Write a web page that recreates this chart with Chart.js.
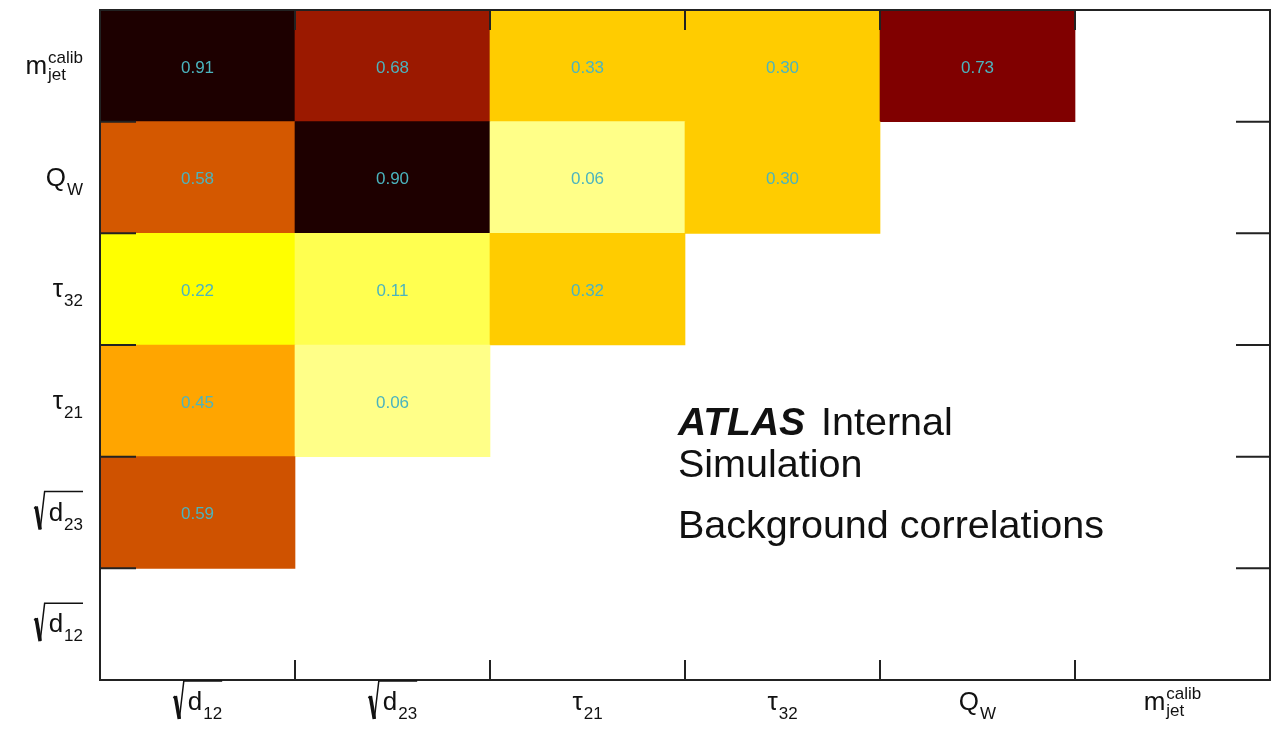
<!DOCTYPE html>
<html>
<head>
<meta charset="utf-8">
<script src="https://cdn.jsdelivr.net/npm/chart.js@4/dist/chart.umd.min.js"></script>
<style>
  html, body { margin: 0; padding: 0; background: #ffffff; }
  #wrap { width: 1280px; height: 729px; position: relative; }
</style>
</head>
<body>
<div id="wrap"><canvas id="c"></canvas></div>
<script>
// ---- data ----
// column variables (left to right) and row variables (bottom to top)
const colLabels = ['√d_{12}', '√d_{23}', 'τ_{21}', 'τ_{32}', 'Q_{W}', 'm_{jet}^{calib}'];
const rowLabels = ['√d_{12}', '√d_{23}', 'τ_{21}', 'τ_{32}', 'Q_{W}', 'm_{jet}^{calib}'];
// correlation values per row, one entry per column (null = empty cell)
const rowD12  = [null, null, null, null, null, null];
const rowD23  = [0.59, null, null, null, null, null];
const rowTau21 = [0.45, 0.06, null, null, null, null];
const rowTau32 = [0.22, 0.11, 0.32, null, null, null];
const rowQw   = [0.58, 0.90, 0.06, 0.30, null, null];
const rowMjet = [0.91, 0.68, 0.33, 0.30, 0.73, null];
const rows = [rowD12, rowD23, rowTau21, rowTau32, rowQw, rowMjet];
const textLines = ['ATLAS', 'Internal', 'Simulation', 'Background correlations'];

// ---- palette ----
const stops = [
  [0.00, [255, 255, 200]], [0.06, [255, 255, 136]], [0.11, [255, 255, 80]],
  [0.22, [255, 255, 0]], [0.30, [255, 204, 0]], [0.33, [255, 204, 0]],
  [0.45, [255, 165, 0]], [0.585, [210, 85, 0]], [0.68, [155, 25, 0]],
  [0.73, [128, 0, 0]], [0.90, [30, 0, 0]], [1.00, [20, 0, 0]]
];
function colorFor(v) {
  for (let i = 1; i < stops.length; i++) {
    if (v <= stops[i][0]) {
      const [a, ca] = stops[i - 1], [b, cb] = stops[i];
      const t = (v - a) / (b - a);
      const c = ca.map((x, k) => Math.round(x + (cb[k] - x) * t));
      return `rgb(${c[0]},${c[1]},${c[2]})`;
    }
  }
  return 'rgb(20,0,0)';
}

const datasets = rows.map((vals, r) => ({
  label: rowLabels[r],
  data: vals.map(v => v == null ? null : [r, r + 1]),
  values: vals,
  backgroundColor: vals.map(v => v == null ? 'rgba(0,0,0,0)' : colorFor(v)),
  borderWidth: 0,
  borderSkipped: false,
  grouped: false,
  barPercentage: 1.0,
  categoryPercentage: 1.0
}));

const FONT = '"Liberation Sans", Arial, Helvetica, sans-serif';

function parseLabel(s) {
  const m = s.match(/^(√)?([^_^]+)(?:_\{([^}]*)\})?(?:\^\{([^}]*)\})?$/);
  return { sqrt: !!m[1], base: m[2], sub: m[3] || '', sup: m[4] || '' };
}

function drawMath(ctx, s, x, baseline, align) {
  const p = parseLabel(s);
  const baseFont = `26px ${FONT}`, scriptFont = `17px ${FONT}`;
  ctx.font = baseFont;
  const wb = ctx.measureText(p.base).width;
  ctx.font = scriptFont;
  const ws = Math.max(p.sub ? ctx.measureText(p.sub).width : 0, p.sup ? ctx.measureText(p.sup).width : 0);
  const radW = p.sqrt ? 15 : 0;
  const W = radW + wb + ws + (p.sub || p.sup ? 1 : 0);
  let x0 = align === 'right' ? x - W : x - W / 2;
  ctx.fillStyle = '#111';
  ctx.strokeStyle = '#111';
  if (p.sqrt) {
    const top = baseline - 29;
    ctx.beginPath();
    ctx.lineWidth = 1.5;
    ctx.moveTo(x0 + 0.5, baseline - 12);
    ctx.lineTo(x0 + 2.5, baseline - 14);
    ctx.stroke();
    ctx.beginPath();
    ctx.lineWidth = 3.6;
    ctx.moveTo(x0 + 2.5, baseline - 14);
    ctx.lineTo(x0 + 6.5, baseline + 9);
    ctx.stroke();
    ctx.beginPath();
    ctx.lineWidth = 1.5;
    ctx.moveTo(x0 + 6.5, baseline + 9);
    ctx.lineTo(x0 + 11, top);
    ctx.lineTo(x0 + W, top);
    ctx.stroke();
    x0 += radW;
  }
  ctx.textAlign = 'left';
  ctx.textBaseline = 'alphabetic';
  ctx.font = baseFont;
  ctx.fillText(p.base, x0, baseline);
  const xs = x0 + wb + 1;
  ctx.font = scriptFont;
  if (p.sup) {
    ctx.fillText(p.sup, xs, baseline - 11);
    if (p.sub) ctx.fillText(p.sub, xs, baseline + 6);
  } else if (p.sub) {
    ctx.fillText(p.sub, xs, baseline + 9);
  }
}

const overlay = {
  id: 'overlay',
  afterDatasetsDraw(chart) {
    const ctx = chart.ctx;
    const xs = chart.scales.x, ys = chart.scales.y;
    const a = chart.chartArea;
    ctx.save();
    // cell values
    ctx.font = `17px ${FONT}`;
    ctx.textAlign = 'center';
    ctx.textBaseline = 'middle';
    ctx.fillStyle = 'rgb(75,180,190)';
    rows.forEach((vals, r) => {
      vals.forEach((v, c) => {
        if (v == null) return;
        ctx.fillText(v.toFixed(2), xs.getPixelForValue(c), ys.getPixelForValue(r + 0.5) + 2);
      });
    });
    // frame
    ctx.strokeStyle = '#222';
    ctx.lineWidth = 2;
    ctx.strokeRect(a.left, a.top, a.right - a.left, a.bottom - a.top);
    // ticks
    ctx.beginPath();
    for (let i = 0; i < colLabels.length - 1; i++) {
      const xb = (xs.getPixelForValue(i) + xs.getPixelForValue(i + 1)) / 2;
      ctx.moveTo(xb, a.bottom); ctx.lineTo(xb, a.bottom - 20);
      ctx.moveTo(xb, a.top); ctx.lineTo(xb, a.top + 20);
    }
    for (let r = 1; r < rowLabels.length; r++) {
      const yb = ys.getPixelForValue(r);
      ctx.moveTo(a.left, yb); ctx.lineTo(a.left + 36, yb);
      ctx.moveTo(a.right, yb); ctx.lineTo(a.right - 34, yb);
    }
    ctx.stroke();
    // axis labels
    colLabels.forEach((s, c) => drawMath(ctx, s, xs.getPixelForValue(c), a.bottom + 30, 'center'));
    rowLabels.forEach((s, r) => drawMath(ctx, s, a.left - 17, ys.getPixelForValue(r + 0.5) + 8, 'right'));
    // ATLAS text
    const tx = a.left + 0.494 * (a.right - a.left);
    const H = a.bottom - a.top;
    ctx.fillStyle = '#111';
    ctx.textAlign = 'left';
    ctx.textBaseline = 'alphabetic';
    ctx.font = `italic bold 39px ${FONT}`;
    const y1 = a.top + 0.634 * H;
    ctx.fillText(textLines[0], tx, y1);
    const wA = ctx.measureText(textLines[0]).width;
    ctx.font = `39.5px ${FONT}`;
    ctx.fillText(textLines[1], tx + wA + 16, y1);
    ctx.fillText(textLines[2], tx, a.top + 0.697 * H);
    ctx.fillText(textLines[3], tx, a.top + 0.788 * H);
    ctx.restore();
  }
};

new Chart(document.getElementById('c'), {
  type: 'bar',
  data: { labels: colLabels, datasets },
  options: {
    responsive: true,
    maintainAspectRatio: false,
    animation: false,
    layout: { padding: { left: 100, right: 10, top: 10, bottom: 49 } },
    plugins: { legend: { display: false }, tooltip: { enabled: false } },
    scales: {
      x: { type: 'category', display: false, offset: true },
      y: { type: 'linear', display: false, min: 0, max: 6 }
    }
  },
  plugins: [overlay]
});
</script>
</body>
</html>
